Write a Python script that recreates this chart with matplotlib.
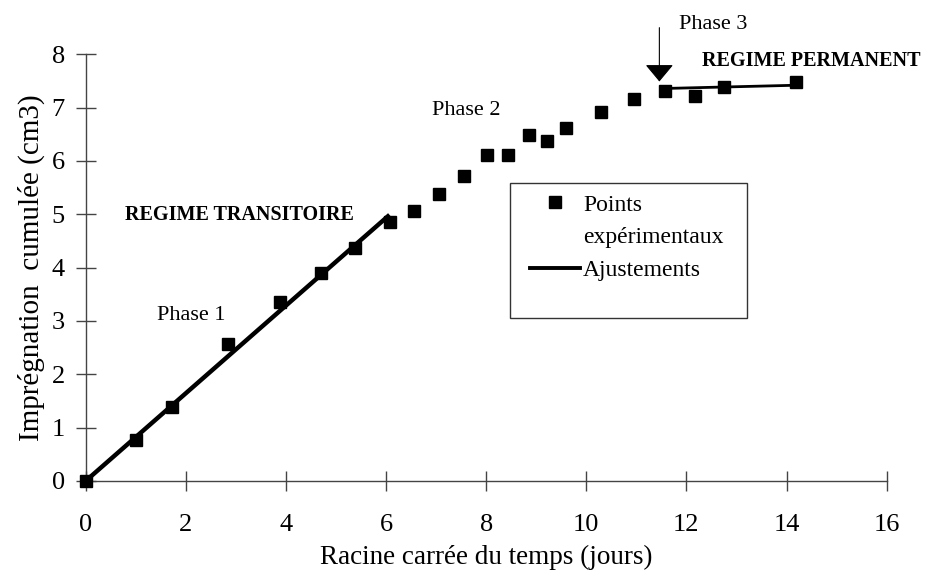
import numpy as np
import matplotlib.pyplot as plt
from matplotlib.lines import Line2D
from matplotlib.patches import Rectangle

plt.rcParams['font.family'] = ['Liberation Serif', 'DejaVu Serif']

# racine carree du temps (jours) / impregnation cumulee (cm3)
x_pts = np.array([0, 1.0, 1.73, 2.84, 3.88, 4.71, 5.39, 6.07, 6.56, 7.06, 7.55,
                  8.02, 8.43, 8.86, 9.22, 9.6, 10.3, 10.96, 11.58, 12.18, 12.76, 14.18])
y_pts = np.array([0, 0.77, 1.39, 2.56, 3.36, 3.9, 4.37, 4.86, 5.07, 5.38, 5.72,
                  6.12, 6.12, 6.48, 6.38, 6.62, 6.92, 7.17, 7.32, 7.21, 7.39, 7.48])

# droites d'ajustement (phase 1 et phase 3)
x_fit1 = [0, 6.07]
y_fit1 = [0, 4.99]
x_fit3 = [11.58, 14.18]
y_fit3 = [7.36, 7.42]

xticks = np.arange(0, 17, 2)
yticks = np.arange(0, 9, 1)

fig = plt.figure(figsize=(9.26, 5.73), dpi=100)
ax = fig.add_axes([0.0925, 0.1606, 0.8650, 0.7446])

ax.plot(x_fit1, y_fit1, '-', color='black', lw=3.2, solid_capstyle='butt')
ax.plot(x_fit3, y_fit3, '-', color='black', lw=2.0)
ax.plot(x_pts, y_pts, 's', color='black', ms=8, clip_on=False, zorder=3)

ax.set_xlim(0, 16)
ax.set_ylim(0, 8)
ax.set_xticks(xticks)
ax.set_yticks(yticks)
for s in ['top', 'right']:
    ax.spines[s].set_visible(False)
for s in ['left', 'bottom']:
    ax.spines[s].set_color('#444444')
    ax.spines[s].set_linewidth(1)
ax.tick_params(axis='both', direction='inout', length=14, width=1,
               color='#444444', labelsize=19)
ax.tick_params(axis='x', pad=17)
ax.tick_params(axis='y', pad=8)

ax.set_xlabel('Racine carrée du temps (jours)', fontsize=19.5, labelpad=6)
ax.set_ylabel('Imprégnation  cumulée (cm3)', fontsize=21, labelpad=5)

# annotations
ax.text(0.79, 4.99, 'REGIME TRANSITOIRE', fontsize=14.5, fontweight='bold', va='center')
ax.text(2.1, 3.11, 'Phase 1', ha='center', va='center', fontsize=16)
ax.text(7.61, 6.95, 'Phase 2', ha='center', va='center', fontsize=16)
ax.text(11.85, 8.56, 'Phase 3', va='center', fontsize=16, clip_on=False)
ax.text(12.31, 7.88, 'REGIME PERMANENT', fontsize=14.5, fontweight='bold', va='center')
ax.annotate('', xy=(11.46, 7.49), xytext=(11.46, 8.5), annotation_clip=False,
            arrowprops=dict(arrowstyle='-|>,head_length=0.6,head_width=0.5',
                            color='black', lw=0.8, mutation_scale=18,
                            shrinkA=0, shrinkB=0))

# legende
h_pts = Line2D([], [], ls='none', marker='s', color='black', ms=8)
h_blank = Line2D([], [], ls='none')
h_fit = Line2D([], [], color='black', lw=2.8)
fig.legend([h_pts, h_blank, h_fit], ['Points', 'expérimentaux', 'Ajustements'],
           loc='upper left', bbox_to_anchor=(530 / 926, 1 - 194 / 573),
           frameon=False, fontsize=17, handlelength=2.1, handletextpad=0.15,
           labelspacing=0.48, borderpad=0, borderaxespad=0)
fig.patches.append(Rectangle((510 / 926, 1 - 318 / 573), 237 / 926, 135 / 573,
                             transform=fig.transFigure, fill=False,
                             edgecolor='#333333', lw=1))

fig.savefig('out.png', dpi=100)
